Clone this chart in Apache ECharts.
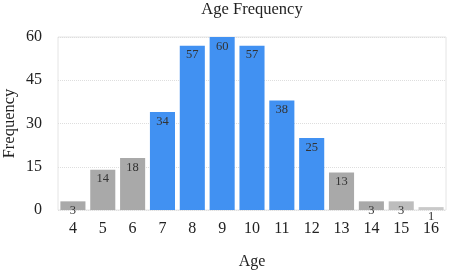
<!DOCTYPE html>
<html>
<head>
<meta charset="utf-8">
<script src="https://cdn.jsdelivr.net/npm/echarts@6/dist/echarts.min.js"></script>
<style>
html, body { margin: 0; padding: 0; background: #fff; }
#chart { width: 453px; height: 270px; }
</style>
</head>
<body>
<div id="chart"></div>
<script>
var ages = ['4', '5', '6', '7', '8', '9', '10', '11', '12', '13', '14', '15', '16'];
var counts = [3, 14, 18, 34, 57, 60, 57, 38, 25, 13, 3, 3, 1];
var barColors = ['#a9a9a9', '#a9a9a9', '#a9a9a9', '#4191f2', '#4191f2', '#4191f2', '#4191f2',
	'#4191f2', '#4191f2', '#a9a9a9', '#a9a9a9', '#bdbdbd', '#c9c9c9'];
var yTicks = [0, 15, 30, 45, 60];

var font = '"Liberation Serif", "DejaVu Serif", serif';
var myChart = echarts.init(document.getElementById('chart'));
var option = {
	animation: false,
	title: {
		text: 'Age Frequency',
		left: 252,
		textAlign: 'center',
		top: 1,
		padding: 0,
		textStyle: { fontFamily: font, fontSize: 16.5, fontWeight: 'normal', color: '#222' }
	},
	grid: {
		left: 58,
		right: 7,
		top: 37,
		bottom: 60,
		outerBoundsMode: 'none',
		containLabel: false,
		show: true,
		borderColor: '#e4e4e4',
		borderWidth: 1
	},
	xAxis: {
		type: 'category',
		data: ages,
		name: 'Age',
		nameLocation: 'middle',
		nameGap: 44,
		nameMoveOverlap: false,
		nameTextStyle: { fontFamily: font, fontSize: 16, color: '#222' },
		axisLine: { show: false },
		axisTick: { show: false },
		axisLabel: { fontFamily: font, fontSize: 16, color: '#222', margin: 11 }
	},
	yAxis: {
		type: 'value',
		min: yTicks[0],
		max: yTicks[yTicks.length - 1],
		interval: 15,
		name: 'Frequency',
		nameLocation: 'middle',
		nameGap: 40,
		nameMoveOverlap: false,
		nameTextStyle: { fontFamily: font, fontSize: 16.5, color: '#222' },
		axisLine: { show: false },
		axisTick: { show: false },
		axisLabel: { fontFamily: font, fontSize: 16, color: '#222', margin: 16 },
		splitLine: { lineStyle: { color: '#dedede', type: 'dotted' } }
	},
	series: [{
		type: 'bar',
		barCategoryGap: '16%',
		data: counts.map(function(v, i) {
			return { value: v, itemStyle: { color: barColors[i] } };
		}),
		label: {
			show: true,
			position: 'insideTop',
			distance: 3,
			fontFamily: font,
			fontSize: 12.5,
			color: '#333'
		}
	}]
};
myChart.setOption(option);
</script>
</body>
</html>
